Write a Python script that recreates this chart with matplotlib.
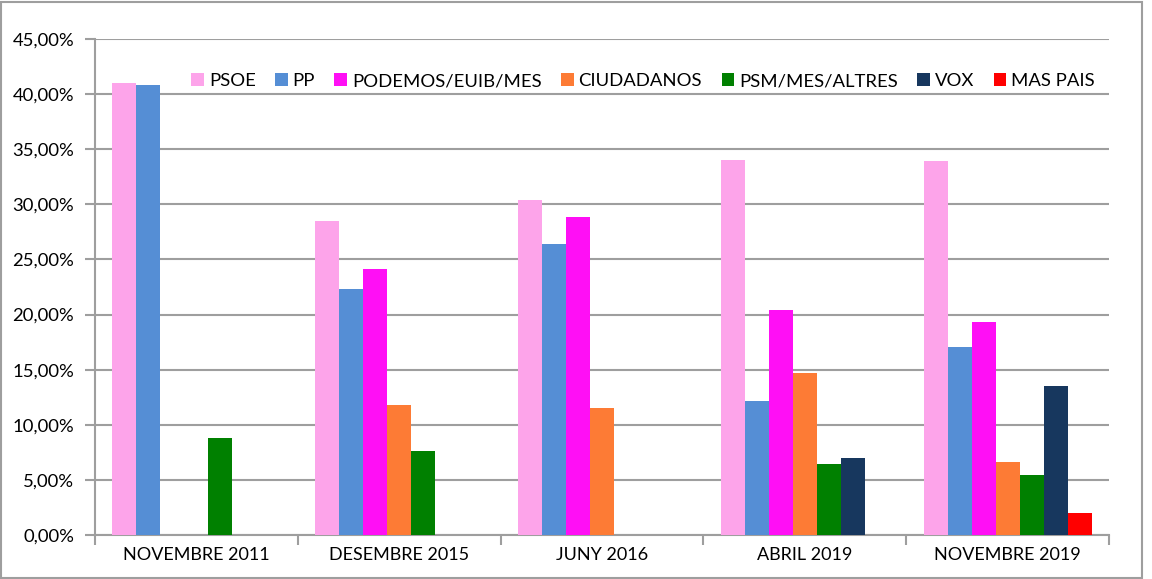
import matplotlib
matplotlib.use("Agg")
import matplotlib.pyplot as plt
import numpy as np
from matplotlib.patches import Rectangle
from matplotlib.ticker import FuncFormatter, MultipleLocator, FixedLocator

plt.rcParams['font.family'] = ['Lato', 'DejaVu Sans']

categories = ["NOVEMBRE 2011", "DESEMBRE 2015", "JUNY 2016", "ABRIL 2019", "NOVEMBRE 2019"]
series_names = ["PSOE", "PP", "PODEMOS/EUIB/MES", "CIUDADANOS", "PSM/MES/ALTRES", "VOX", "MAS PAIS"]
psoe = [41.0, 28.5, 30.4, 34.0, 33.9]
pp = [40.8, 22.3, 26.4, 12.2, 17.1]
podemos = [0, 24.1, 28.85, 20.4, 19.3]
ciudadanos = [0, 11.8, 11.5, 14.7, 6.6]
psm = [8.8, 7.6, 0, 6.45, 5.4]
vox = [0, 0, 0, 7.0, 13.5]
mas_pais = [0, 0, 0, 0, 2.0]
colors = ["#FDA4EA", "#558ED5", "#FF0FF5", "#FD7B35", "#008000", "#17375E", "#FF0000"]

values = [psoe, pp, podemos, ciudadanos, psm, vox, mas_pais]

fig = plt.figure(figsize=(11.52, 5.79), dpi=100)
ax = fig.add_axes([95/1152, (579-535)/579, (1109-95)/1152, (535-39)/579])

n = len(series_names)
bw = 24/202.8
x = np.arange(len(categories))
for i, (name, vals, c) in enumerate(zip(series_names, values, colors)):
    offs = (i - (n-1)/2) * bw
    ax.bar(x + offs, vals, width=bw, color=c, label=name, zorder=3, linewidth=0)

ax.set_xlim(-0.5, len(categories)-0.5)
ax.set_ylim(0, 45)
ax.yaxis.set_major_locator(MultipleLocator(5))
ax.yaxis.set_major_formatter(FuncFormatter(lambda v, p: f"{v:.2f}".replace('.', ',') + "%"))
ax.grid(axis='y', color='#9E9E9E', linewidth=1.5, zorder=0)
ax.set_axisbelow(True)

ax.set_xticks(x)
ax.set_xticklabels(categories)
ax.xaxis.set_minor_locator(FixedLocator(np.arange(-0.5, len(categories), 1)))
ax.tick_params(axis='x', which='major', length=0, pad=9, labelsize=13, colors='black')
ax.tick_params(axis='x', which='minor', length=7, width=1.5, color='#9E9E9E')
ax.tick_params(axis='y', which='major', length=7, width=1.5, color='#9E9E9E', pad=8, labelsize=13.3)

for s in ['top', 'right']:
    ax.spines[s].set_visible(False)
for s in ['left', 'bottom']:
    ax.spines[s].set_color('#9E9E9E')
    ax.spines[s].set_linewidth(1.5)

leg = ax.legend(loc='center', bbox_to_anchor=(0.5404, 0.915), ncol=7, frameon=False,
                fontsize=13.3, handlelength=0.7, handleheight=0.7, handletextpad=0.25,
                columnspacing=1.05, borderaxespad=0)

fig.patches.append(Rectangle((0.5/1152, 1.5/579), 1141/1152, 576/579, transform=fig.transFigure,
                             fill=False, edgecolor='#9E9E9E', linewidth=1.5))

fig.savefig("out.png", dpi=100)
